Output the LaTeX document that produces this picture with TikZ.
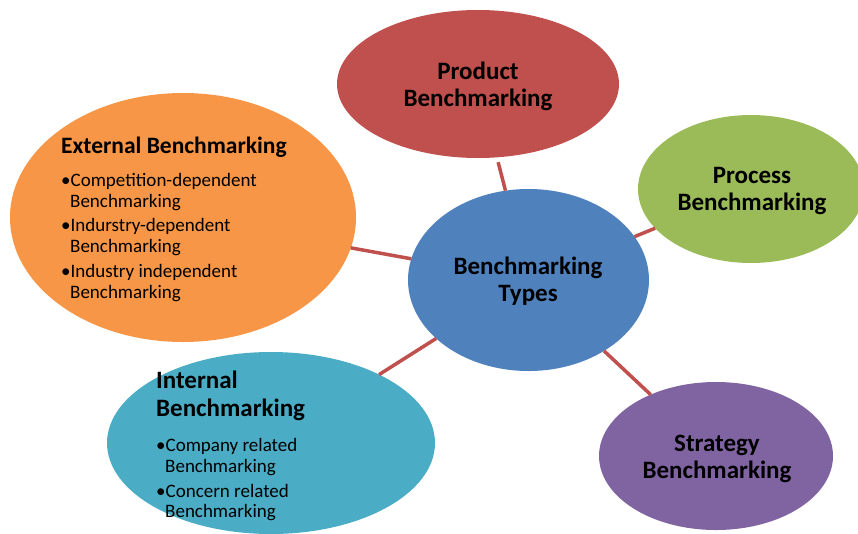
\documentclass[tikz,border=0pt]{standalone}
\usepackage{fontspec}
\setmainfont{Carlito}
\usetikzlibrary{shapes.geometric}
\definecolor{cred}{HTML}{C0504D}
\definecolor{cblue}{HTML}{4F81BD}
\definecolor{cgreen}{HTML}{9BBB59}
\definecolor{corange}{HTML}{F79646}
\definecolor{caqua}{HTML}{4BACC6}
\definecolor{cpurple}{HTML}{8064A2}
\begin{document}
\begin{tikzpicture}[x=1pt,y=-1pt,
  bub/.style={ellipse, inner sep=0pt, outer sep=0pt, draw=none},
  link/.style={draw=cred, line width=3.5pt},
  ttl/.style={font=\fontsize{25}{27}\selectfont\bfseries, anchor=base, inner sep=0pt},
  lttl/.style={font=\fontsize{25}{27}\selectfont\bfseries, anchor=base west, inner sep=0pt},
  itm/.style={font=\fontsize{19}{20}\selectfont, anchor=base west, inner sep=0pt}]
\useasboundingbox (0,0) rectangle (858,533);
% bubbles
\node[bub, fill=corange, minimum width=346pt, minimum height=249pt] (ext) at (183,217.5) {};
\node[bub, fill=cred, minimum width=282pt, minimum height=148pt] (prod) at (478,84) {};
\node[bub, fill=cgreen, minimum width=226pt, minimum height=148pt] (proc) at (751,189) {};
\node[bub, fill=caqua, minimum width=328pt, minimum height=182pt] (int) at (271,443) {};
\node[bub, fill=cpurple, minimum width=234pt, minimum height=148pt] (strat) at (716,456) {};
\node[bub, fill=cblue, minimum width=241pt, minimum height=182pt] (hub) at (528.5,280) {};
% connectors
\draw[link, shorten >=5pt] (hub) -- (prod);
\draw[link] (hub) -- (proc);
\draw[link] (hub) -- (ext);
\draw[link] (hub) -- (int);
\draw[link] (hub) -- (strat);
% centre text
\node[ttl] (hubA) at (528,274) {Benchmarking};
\node[ttl] (hubB) at (528,301) {Types};
% product
\node[ttl] (prodA) at (478,79) {Product};
\node[ttl] (prodB) at (478,106) {Benchmarking};
% process
\node[ttl] (procA) at (752,183) {Process};
\node[ttl] (procB) at (752,210) {Benchmarking};
% strategy
\node[ttl] (stratA) at (717,451) {Strategy};
\node[ttl] (stratB) at (717,478) {Benchmarking};
% external
\node[lttl, font=\fontsize{23.5}{27}\selectfont\bfseries] (extT) at (61,153) {External Benchmarking};
\node[itm] (ext1) at (61,186) {•Competition-dependent};
\node[itm] (ext2) at (70,207) {Benchmarking};
\node[itm] (ext3) at (61,231) {•Indurstry-dependent};
\node[itm] (ext4) at (70,252) {Benchmarking};
\node[itm] (ext5) at (61,277) {•Industry independent};
\node[itm] (ext6) at (70,298) {Benchmarking};
% internal
\node[lttl] (intA) at (156,388) {Internal};
\node[lttl] (intB) at (156,416) {Benchmarking};
\node[itm] (int1) at (156,451) {•Company related};
\node[itm] (int2) at (165,472) {Benchmarking};
\node[itm] (int3) at (156,497) {•Concern related};
\node[itm] (int4) at (165,517) {Benchmarking};
\end{tikzpicture}
\end{document}
